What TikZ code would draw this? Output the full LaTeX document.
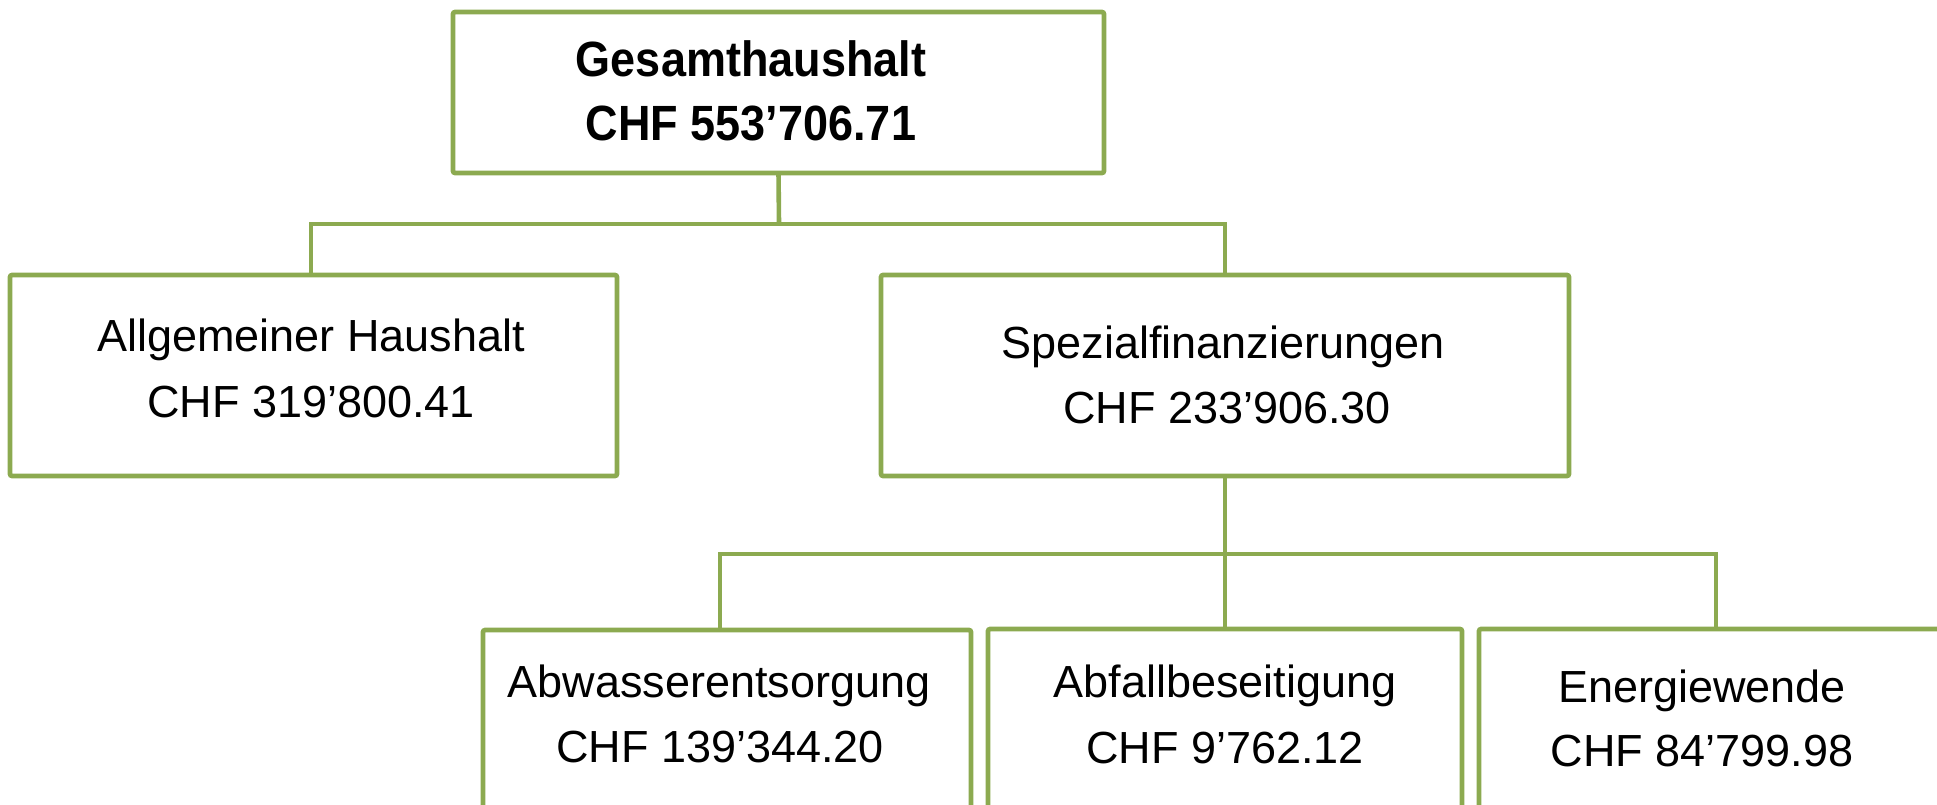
\documentclass[tikz,border=0pt]{standalone}
\usepackage{fontspec}
\setmainfont{Liberation Sans}
\usepackage{graphicx}
\definecolor{boxgreen}{HTML}{8CAA50}
\begin{document}
\begin{tikzpicture}[x=0.5pt,y=-0.5pt,
  box/.style={draw=boxgreen, line width=2.3pt, rounded corners=1pt, fill=white, outer sep=0pt, inner sep=0pt, anchor=north west},
  link/.style={draw=boxgreen, line width=2.3pt},
  txt/.style={anchor=base, inner sep=0pt, font=\fontsize{22.5}{27}\selectfont},
  boldtxt/.style={anchor=base, inner sep=0pt, font=\fontsize{22.5}{27}\selectfont\bfseries}]
\useasboundingbox (0,0) rectangle (1937,804);
\clip (0,0) rectangle (1937,804);

% boxes
\node[box, minimum width=325.5pt, minimum height=80.5pt] (gesamt) at (453,12) {};
\node[box, minimum width=303.5pt, minimum height=100.5pt] (allg) at (10,275) {};
\node[box, minimum width=344pt, minimum height=100.5pt] (spez) at (881,275) {};
\node[box, minimum width=244pt, minimum height=110pt] (abw) at (483,630) {};
\node[box, minimum width=237pt, minimum height=110pt] (abf) at (988,629) {};
\node[box, minimum width=260pt, minimum height=110pt] (ene) at (1479,629) {};

% connectors
\coordinate (b1) at (779,224);
\coordinate (allgin) at (311,275);
\draw[link] (gesamt.south) -- (b1);
\draw[link] (allgin) |- (b1) -| (spez.north);

\coordinate (b2) at (1225,554);
\coordinate (abwin) at (720,630);
\coordinate (enein) at (1716,629);
\draw[link] (spez.south) -- (b2);
\draw[link] (abwin) |- (b2) -| (enein);
\draw[link] (b2) -- (abf.north);

% texts
\node[boldtxt] (gesamt-l1) at (751,76) {\scalebox{1}[1.1]{Gesamthaushalt}};
\node[boldtxt] (gesamt-l2) at (751,140) {\scalebox{1}[1.1]{CHF 553’706.71}};
\node[txt] (allg-l1) at (311,351) {Allgemeiner Haushalt};
\node[txt] (allg-l2) at (311,417) {CHF 319’800.41};
\node[txt] (spez-l1) at (1223,358) {Spezialfinanzierungen};
\node[txt] (spez-l2) at (1227,423) {CHF 233’906.30};
\node[txt] (abw-l1) at (719,697) {Abwasserentsorgung};
\node[txt] (abw-l2) at (720,762) {CHF 139’344.20};
\node[txt] (abf-l1) at (1225,697) {Abfallbeseitigung};
\node[txt] (abf-l2) at (1225,763) {CHF 9’762.12};
\node[txt] (ene-l1) at (1702,702) {Energiewende};
\node[txt] (ene-l2) at (1702,766) {CHF 84’799.98};
\end{tikzpicture}
\end{document}
